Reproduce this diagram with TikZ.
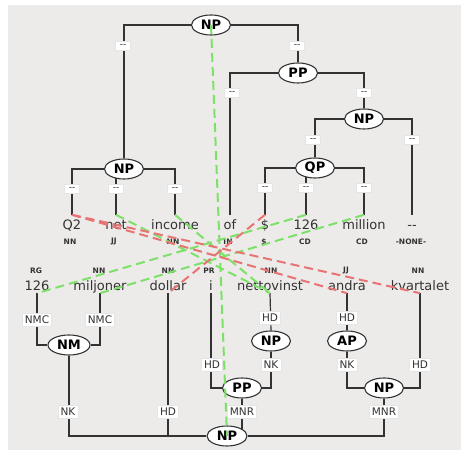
\documentclass[tikz,border=0pt]{standalone}
\usepackage{fontspec}
\setmainfont{DejaVu Sans}
\usepackage{xcolor}
\usetikzlibrary{shapes,calc,backgrounds}

\definecolor{bg}{RGB}{236,235,233}
\definecolor{ink}{RGB}{51,51,51}
\definecolor{alok}{RGB}{125,225,105}
\definecolor{alno}{RGB}{232,115,115}

\tikzset{
  cat/.style={ellipse,draw=ink,fill=white,line width=1.1pt,inner sep=0pt,
    minimum width=39pt,minimum height=20pt,font=\fontsize{13}{13}\selectfont\bfseries},
  lbl/.style={fill=white,draw=black!10,inner sep=0pt,inner xsep=2.5pt,minimum height=13pt,
    text=ink,font=\fontsize{10.5}{10.5}\selectfont},
  nolbl/.style={lbl,minimum height=9pt,minimum width=15pt,font=\fontsize{9}{9}\selectfont},
  word/.style={inner sep=0pt,anchor=base,text=ink,font=\fontsize{13}{13}\selectfont},
  tword/.style={word,text height=15pt},
  bword/.style={word,text depth=2pt},
  tag/.style={inner sep=0pt,text=ink,font=\fontsize{7.5}{7.5}\selectfont\bfseries},
  edge/.style={draw=ink,line width=1.2pt},
  good/.style={draw=alok,line width=2pt,dash pattern=on 9pt off 5pt},
  bad/.style={draw=alno,line width=2pt,dash pattern=on 9pt off 5pt}
}

\begin{document}
\begin{tikzpicture}[x=1pt,y=-1pt]
  \useasboundingbox (0,0) rectangle (461,454);

  % top tree (English)
  \node[cat] (np0) at (211,25) {NP};
  \node[cat] (pp0) at (298,73) {PP};
  \node[cat] (np2) at (364,119) {NP};
  \node[cat] (np1) at (124,169) {NP};
  \node[cat] (qp0) at (315,168) {QP};

  \node[tword] (wq2) at (72,230) {Q2};
  \node[tword] (wnet) at (116,230) {net};
  \node[tword] (wincome) at (175,230) {income};
  \node[tword] (wof) at (230,230) {of};
  \node[tword] (wdol) at (265,230) {\$};
  \node[tword] (wcd) at (306,230) {126};
  \node[tword] (wmillion) at (364,230) {million};
  \node[tword] (wnone) at (412,230) {-{}-};

  \node[tag] (pq2) at (70,242) {NN};
  \node[tag] (pnet) at (114,242) {JJ};
  \node[tag] (pincome) at (173,242) {NN};
  \node[tag] (pof) at (228,242) {IN};
  \node[tag] (pdol) at (264,242) {\$};
  \node[tag] (pcd) at (305,242) {CD};
  \node[tag] (pmillion) at (362,242) {CD};
  \node[tag] (pnone) at (411,242) {-NONE-};

  % bottom tree (Swedish)
  \node[tag] (p126) at (36,271) {RG};
  \node[tag] (pmil) at (99,271) {NN};
  \node[tag] (pdollar) at (168,271) {NN};
  \node[tag] (pi) at (209,271) {PR};
  \node[tag] (pnetto) at (271,271) {NN};
  \node[tag] (pandra) at (346,271) {JJ};
  \node[tag] (pkvart) at (418,271) {NN};

  \node[bword] (w126) at (37,291) {126};
  \node[bword] (wmil) at (100,291) {miljoner};
  \node[bword] (wdollar) at (168,291) {dollar};
  \node[bword] (wi) at (211,291) {i};
  \node[bword] (wnetto) at (270,291) {nettovinst};
  \node[bword] (wandra) at (347,291) {andra};
  \node[bword] (wkvart) at (420,291) {kvartalet};

  \node[cat,minimum width=42pt] (nm) at (69,345) {NM};
  \node[cat] (np3) at (271,341) {NP};
  \node[cat] (ap) at (347,341) {AP};
  \node[cat] (pp1) at (242,388) {PP};
  \node[cat] (np4) at (384,388) {NP};
  \node[cat,minimum width=40pt] (np5) at (227,436) {NP};

  \begin{scope}[on background layer]
    \fill[bg] (8,5) rectangle (461,450);

    \draw[edge] (np0.west) -| (np1.north);
    \draw[edge] (np0.east) -| (pp0.north);
    \draw[edge] (pp0.west) -| (wof.north);
    \draw[edge] (pp0.east) -| (np2.north);
    \draw[edge] (np2.west) -| (qp0.north);
    \draw[edge] (np2.east) -| (wnone.north);
    \draw[edge] (qp0.west) -| (wdol.north);
    \draw[edge] (wcd.north) -- (wcd.north |- qp0.center);
    \draw[edge] (qp0.east) -| (wmillion.north);
    \draw[edge] (np1.west) -| (wq2.north);
    \draw[edge] (wnet.north) -- (wnet.north |- np1.center);
    \draw[edge] (np1.east) -| (wincome.north);

    \draw[edge] (w126.south) |- (nm.west);
    \draw[edge] (wmil.south) |- (nm.east);
    \draw[edge] (nm.south) |- (np5.west);
    \draw[edge] (wdollar.south) -- (wdollar.south |- np5.center);
    \draw[edge] (wi.south) |- (pp1.west);
    \draw[edge] (wnetto.south) -- (np3.north);
    \draw[edge] (np3.south) |- (pp1.east);
    \draw[edge] (pp1.south) -- (pp1.south |- np5.center);
    \draw[edge] (wandra.south) -- (ap.north);
    \draw[edge] (ap.south) |- (np4.west);
    \draw[edge] (wkvart.south) |- (np4.east);
    \draw[edge] (np4.south) |- (np5.east);
  \end{scope}

  % edge labels
  \node[nolbl] (e1) at (123,46) {-{}-};
  \node[nolbl] (e2) at (297,46) {-{}-};
  \node[nolbl] (e3) at (232,93) {-{}-};
  \node[nolbl] (e4) at (364,93) {-{}-};
  \node[nolbl] (e5) at (313,140) {-{}-};
  \node[nolbl] (e6) at (412,140) {-{}-};
  \node[nolbl] (e7) at (72,189) {-{}-};
  \node[nolbl] (e8) at (116,189) {-{}-};
  \node[nolbl] (e9) at (175,189) {-{}-};
  \node[nolbl] (e10) at (265,188) {-{}-};
  \node[nolbl] (e11) at (306,188) {-{}-};
  \node[nolbl] (e12) at (364,188) {-{}-};

  \node[lbl] (f1) at (37,320) {NMC};
  \node[lbl] (f2) at (100,320) {NMC};
  \node[lbl] (f3) at (270,318) {HD};
  \node[lbl] (f4) at (347,318) {HD};
  \node[lbl] (f5) at (212,365) {HD};
  \node[lbl] (f6) at (271,365) {NK};
  \node[lbl] (f7) at (347,365) {NK};
  \node[lbl] (f8) at (420,365) {HD};
  \node[lbl] (f9) at (68,412) {NK};
  \node[lbl] (f10) at (168,412) {HD};
  \node[lbl] (f11) at (242,412) {MNR};
  \node[lbl] (f12) at (384,412) {MNR};

  % alignment
  \draw[good] (np0.center) -- (np5.center);
  \draw[good] (wnet.north) -- (wnetto.south);
  \draw[good] (wincome.north) -- (wnetto.south);
  \draw[good] (wcd.north) -- (w126.south);
  \draw[good] (wmillion.north) -- (wmil.south);
  \draw[bad] (wq2.north) -- (wandra.south);
  \draw[bad] (wq2.north) -- (wkvart.south);
  \draw[bad] (wdol.north) -- (wdollar.south);
\end{tikzpicture}
\end{document}
